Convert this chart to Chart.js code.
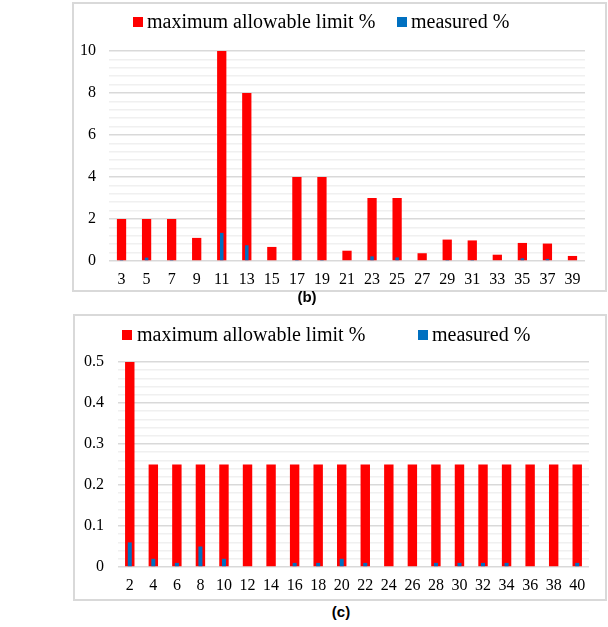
<!DOCTYPE html>
<html>
<head>
<meta charset="utf-8">
<script src="https://cdn.jsdelivr.net/npm/chart.js@4.4.1/dist/chart.umd.min.js"></script>
<style>
  html, body { margin: 0; padding: 0; background: #ffffff; }
  body { width: 608px; height: 627px; position: relative; overflow: hidden; font-family: "Liberation Serif", "Times New Roman", serif; }
  .box { position: absolute; border: 2px solid #d9d9d9; background: #fff; box-sizing: border-box; }
  .box canvas { display: block; }
  .cap { position: absolute; font-family: "Liberation Sans", Arial, sans-serif; font-weight: bold; font-size: 15px; color: #000; transform: translateX(-50%); }
  .lg-box { position: absolute; width: 10px; height: 10px; }
  .lg-txt { position: absolute; font-family: "Liberation Serif", "Times New Roman", serif; font-size: 20px; line-height: 20px; color: #000; white-space: nowrap; }
</style>
</head>
<body>
<div class="box" id="boxB" style="left:72px; top:2px; width:535px; height:290px;"><canvas id="chartB"></canvas></div>
<div class="cap" style="left:307px; top:288px;">(b)</div>
<div class="box" id="boxC" style="left:73px; top:314px; width:534px; height:287px;"><canvas id="chartC"></canvas></div>
<div class="cap" style="left:341px; top:603px;">(c)</div>
<script>
// ---- Data: chart (b) odd harmonics ----
const harmonicsB = ["3","5","7","9","11","13","15","17","19","21","23","25","27","29","31","33","35","37","39"];
const limitB     = [2, 2, 2, 1.1, 10, 8, 0.67, 4, 4, 0.49, 3, 3, 0.37, 1.02, 0.98, 0.3, 0.86, 0.83, 0.24];
const measuredB  = [0.02, 0.16, 0.02, 0, 1.34, 0.75, 0, 0.02, 0.02, 0, 0.22, 0.17, 0, 0.02, 0.02, 0, 0.13, 0.1, 0];
const yTicksB    = [0, 2, 4, 6, 8, 10];

// ---- Data: chart (c) even harmonics ----
const harmonicsC = ["2","4","6","8","10","12","14","16","18","20","22","24","26","28","30","32","34","36","38","40"];
const limitC     = [0.5, 0.25, 0.25, 0.25, 0.25, 0.25, 0.25, 0.25, 0.25, 0.25, 0.25, 0.25, 0.25, 0.25, 0.25, 0.25, 0.25, 0.25, 0.25, 0.25];
const measuredC  = [0.06, 0.02, 0.01, 0.05, 0.02, 0, 0, 0.01, 0.01, 0.02, 0.01, 0, 0, 0.01, 0.01, 0.01, 0.01, 0, 0, 0.01];
const yTicksC    = [0, 0.1, 0.2, 0.3, 0.4, 0.5];

const seriesNames = ["maximum allowable limit %", "measured %"];
const seriesColors = ["#ff0000", "#0070c0"];
const SERIF = "'Liberation Serif', 'Times New Roman', serif";

function isMajor(v, list) { return list.some(t => Math.abs(t - v) < 1e-6); }

function addLegend(pos) {
  seriesNames.forEach((name, i) => {
    const sw = document.createElement('div');
    sw.className = 'lg-box';
    sw.style.left = pos.items[i][0] + 'px';
    sw.style.top = pos.top + 'px';
    sw.style.background = seriesColors[i];
    document.body.appendChild(sw);
    const tx = document.createElement('div');
    tx.className = 'lg-txt';
    tx.textContent = name;
    tx.style.left = pos.items[i][1] + 'px';
    tx.style.top = (pos.top - 6) + 'px';
    document.body.appendChild(tx);
  });
}

function makeChart(id, labels, lim, meas, yTicks, opt) {
  const el = document.getElementById(id);
  const box = el.parentElement;
  el.width = box.clientWidth; el.height = box.clientHeight;
  return new Chart(el, {
    type: 'bar',
    data: {
      labels: labels,
      datasets: [
        { label: seriesNames[0], data: lim, backgroundColor: seriesColors[0], borderWidth: 0,
          barPercentage: opt.redPct, categoryPercentage: 1, grouped: false, order: 2 },
        { label: seriesNames[1], data: meas, backgroundColor: seriesColors[1], borderWidth: 0,
          barPercentage: opt.bluePct, categoryPercentage: 1, grouped: false, order: 1 }
      ]
    },
    options: {
      responsive: false, animation: false, devicePixelRatio: 1,
      layout: { padding: { left: 0, right: opt.padRight, top: opt.padTop, bottom: 0 } },
      plugins: { legend: { display: false }, tooltip: { enabled: false } },
      scales: {
        x: {
          afterFit: (s) => { s.height = opt.xHeight; },
          grid: { display: false, drawTicks: false },
          border: { display: false },
          ticks: { font: { family: SERIF, size: 16 }, color: '#000', padding: opt.xPad, autoSkip: false, maxRotation: 0 }
        },
        y: {
          min: 0, max: yTicks[yTicks.length - 1],
          afterFit: (s) => { s.width = opt.yWidth; },
          border: { display: false },
          grid: {
            drawTicks: false,
            color: (ctx) => isMajor(ctx.tick.value, yTicks) ? '#d9d9d9' : '#f0f0f0',
            lineWidth: 1.5
          },
          ticks: {
            stepSize: opt.minorStep, autoSkip: false, padding: opt.yPad,
            font: { family: SERIF, size: 16 }, color: '#000',
            callback: (v) => isMajor(v, yTicks) ? String(Math.round(v * 10) / 10) : ''
          }
        }
      }
    }
  });
}

function drawAll() {
  Chart.defaults.font.family = SERIF;
  addLegend({ top: 17, items: [[133, 147], [397, 411]] });
  addLegend({ top: 330, items: [[122, 137], [418, 432]] });
  makeChart('chartB', harmonicsB, limitB, measuredB, yTicksB,
    { redPct: 0.37, bluePct: 0.14, padRight: 20, padTop: 47, xPad: 9, xHeight: 29, yWidth: 35, yPad: 13, minorStep: 0.4 });
  makeChart('chartC', harmonicsC, limitC, measuredC, yTicksC,
    { redPct: 0.4, bluePct: 0.17, padRight: 16, padTop: 46, xPad: 9, xHeight: 32, yWidth: 43, yPad: 14, minorStep: 0.02 });
}

if (document.fonts && document.fonts.load) {
  Promise.all([
    document.fonts.load('16px "Liberation Serif"'),
    document.fonts.load('20px "Liberation Serif"')
  ]).then(drawAll, drawAll);
} else {
  drawAll();
}
</script>
</body>
</html>
